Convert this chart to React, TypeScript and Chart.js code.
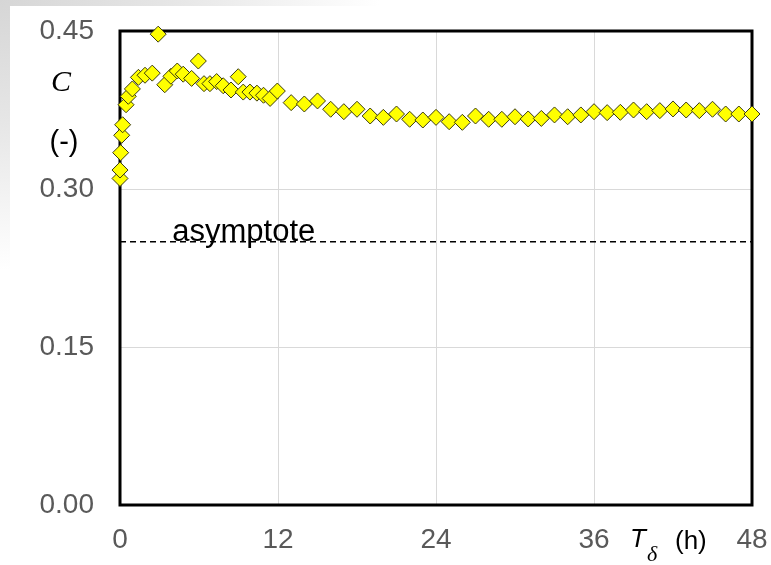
import React, { useEffect, useRef } from "react";
import { Chart, registerables } from "chart.js";

Chart.register(...registerables);

// Elapsed time T_δ (h) and measured coefficient C (-)
const times: number[] = [
  0, 0, 0.05, 0.13, 0.2, 0.46, 0.63, 0.94, 1.4, 1.9, 2.45, 2.9, 3.4, 3.87, 4.35,
  4.8, 5.44, 5.95, 6.38, 6.83, 7.34, 7.84, 8.43, 8.98, 9.36, 9.87, 10.4, 10.9,
  11.4, 11.95, 13, 14, 15, 16, 17, 18, 19, 20, 21, 22, 23, 24, 25, 26, 27, 28,
  29, 30, 31, 32, 33, 34, 35, 36, 37, 38, 39, 40, 41, 42, 43, 44, 45, 46, 47, 48,
];
const cValues: number[] = [
  0.31, 0.318, 0.3345, 0.351, 0.361, 0.38, 0.388, 0.395, 0.406, 0.408, 0.41,
  0.447, 0.399, 0.407, 0.412, 0.409, 0.405, 0.4215, 0.4, 0.4, 0.402, 0.398,
  0.394, 0.4066, 0.392, 0.392, 0.391, 0.389, 0.386, 0.393, 0.382, 0.3807,
  0.3836, 0.3757, 0.3734, 0.3757, 0.3693, 0.368, 0.3712, 0.3662, 0.3655, 0.368,
  0.3639, 0.3633, 0.3693, 0.3662, 0.3662, 0.3686, 0.3665, 0.367, 0.3703,
  0.3686, 0.3703, 0.3734, 0.3725, 0.3728, 0.375, 0.3734, 0.3744, 0.376, 0.375,
  0.3744, 0.3757, 0.3712, 0.3712, 0.3712,
];

const asymptoteValue = 0.25;
const asymptoteLabel = "asymptote";
const asymptoteLabelAt = 9.4; // hours, centre of the label

const xTicks: number[] = [0, 12, 24, 36, 48];
const yTicks: number[] = [0, 0.15, 0.3, 0.45];

const SANS = "'Liberation Sans', Arial, sans-serif";
const SERIF = "'Liberation Serif', 'Times New Roman', serif";

// Plot frame drawn under the markers
const framePlugin = {
  id: "frame",
  beforeDatasetsDraw(chart: any) {
    const { ctx, chartArea } = chart;
    ctx.save();
    ctx.strokeStyle = "#000";
    ctx.lineWidth = 3;
    ctx.strokeRect(
      chartArea.left,
      chartArea.top,
      chartArea.right - chartArea.left,
      chartArea.bottom - chartArea.top
    );
    ctx.restore();
  },
};

// Axis titles and the asymptote caption
const textPlugin = {
  id: "texts",
  afterDatasetsDraw(chart: any) {
    const { ctx } = chart;
    const xs = chart.scales.x;
    const ys = chart.scales.y;
    ctx.save();
    ctx.fillStyle = "#000";

    ctx.textAlign = "center";
    ctx.textBaseline = "alphabetic";
    ctx.font = `31px ${SANS}`;
    ctx.fillText(
      asymptoteLabel,
      xs.getPixelForValue(asymptoteLabelAt),
      ys.getPixelForValue(asymptoteValue) - 1
    );

    // y-axis title
    ctx.font = `italic 30px ${SERIF}`;
    ctx.fillText("C", 61, 91);
    ctx.font = `29px ${SANS}`;
    ctx.fillText("(-)", 64, 151);

    // x-axis title
    ctx.textAlign = "left";
    ctx.font = `italic 26px ${SANS}`;
    ctx.fillText("T", 630, 547);
    ctx.font = `italic 22px ${SERIF}`;
    ctx.fillText("δ", 647, 561);
    ctx.font = `26px ${SANS}`;
    ctx.fillText("(h)", 675, 549);
    ctx.restore();
  },
};

// Labels may overhang the plot edges; the layout padding reserves that room
const noOverhang = (s: any) => {
  s.paddingTop = 0;
  s.paddingBottom = 0;
  s.paddingLeft = 0;
  s.paddingRight = 0;
};

export default function App() {
  const canvasRef = useRef<HTMLCanvasElement | null>(null);

  useEffect(() => {
    if (!canvasRef.current) return;
    const points = times.map((t, i) => ({ x: t, y: cValues[i] }));
    const chart = new Chart(canvasRef.current, {
      type: "scatter",
      data: {
        datasets: [
          {
            type: "line",
            data: [
              { x: xTicks[0], y: asymptoteValue },
              { x: xTicks[xTicks.length - 1], y: asymptoteValue },
            ],
            borderColor: "#000",
            borderWidth: 1.5,
            borderDash: [6, 4],
            pointRadius: 0,
            fill: false,
            order: 2,
          } as any,
          {
            data: points,
            pointStyle: "rectRot",
            pointRadius: 8,
            pointHoverRadius: 8,
            backgroundColor: "#ffff00",
            borderColor: "#3a3a10",
            borderWidth: 1,
            clip: false,
            order: 1,
          } as any,
        ],
      },
      options: {
        responsive: false,
        animation: false,
        devicePixelRatio: 1,
        layout: { padding: { top: 31, right: 19, left: 0, bottom: 0 } },
        plugins: {
          legend: { display: false },
          tooltip: { enabled: false },
        },
        scales: {
          x: {
            type: "linear",
            min: xTicks[0],
            max: xTicks[xTicks.length - 1],
            afterBuildTicks: (s: any) => {
              s.ticks = xTicks.map((v) => ({ value: v }));
            },
            ticks: {
              color: "#595959",
              font: { family: SANS, size: 28 },
              padding: 18,
              maxRotation: 0,
              callback: (v: any) => String(v),
            },
            grid: { color: "#d9d9d9", lineWidth: 1, drawTicks: false },
            border: { display: false },
            afterFit: (s: any) => {
              s.height = 60;
              noOverhang(s);
            },
          },
          y: {
            type: "linear",
            min: yTicks[0],
            max: yTicks[yTicks.length - 1],
            afterBuildTicks: (s: any) => {
              s.ticks = yTicks.map((v) => ({ value: v }));
            },
            ticks: {
              color: "#595959",
              font: { family: SANS, size: 28 },
              padding: 26,
              callback: (v: any) => Number(v).toFixed(2),
            },
            grid: { color: "#d9d9d9", lineWidth: 1, drawTicks: false },
            border: { display: false },
            afterFit: (s: any) => {
              s.width = 120;
              noOverhang(s);
            },
          },
        },
      },
      plugins: [framePlugin, textPlugin],
    });
    return () => chart.destroy();
  }, []);

  return (
    <div
      style={{
        position: "fixed",
        left: 0,
        top: 0,
        width: 771,
        height: 565,
        overflow: "hidden",
        background:
          "radial-gradient(ellipse 380px 270px at 0 0, #d6d6d6 0%, #e6e6e6 45%, #ffffff 100%)",
      }}
    >
      <div
        style={{
          position: "absolute",
          left: 10,
          top: 6,
          right: 0,
          bottom: 0,
          background: "#ffffff",
        }}
      />
      <canvas
        ref={canvasRef}
        width={771}
        height={565}
        style={{ position: "absolute", left: 0, top: 0 }}
      />
    </div>
  );
}
